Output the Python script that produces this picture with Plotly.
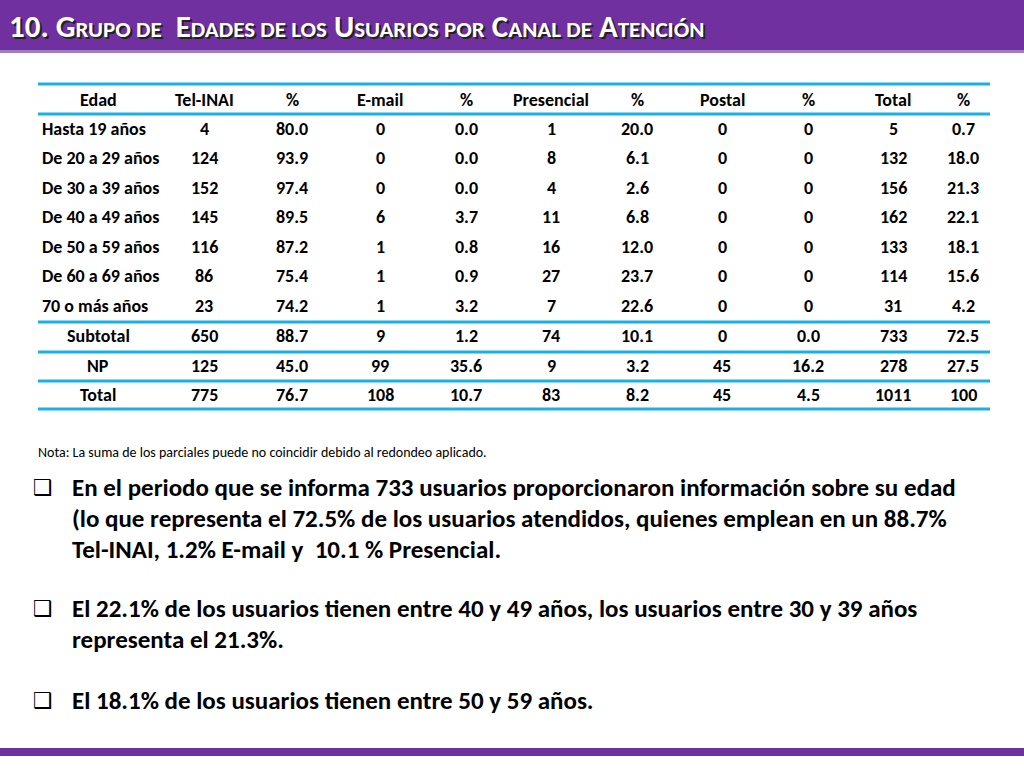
import plotly.graph_objects as go

headers = ["Edad", "Tel-INAI", "%", "E-mail", "%", "Presencial", "%", "Postal", "%", "Total", "%"]
ages = ["Hasta 19 años", "De 20 a 29 años", "De 30 a 39 años", "De 40 a 49 años",
        "De 50 a 59 años", "De 60 a 69 años", "70 o más años", "Subtotal", "NP", "Total"]
tel = ["4", "124", "152", "145", "116", "86", "23", "650", "125", "775"]
tel_pct = ["80.0", "93.9", "97.4", "89.5", "87.2", "75.4", "74.2", "88.7", "45.0", "76.7"]
email = ["0", "0", "0", "6", "1", "1", "1", "9", "99", "108"]
email_pct = ["0.0", "0.0", "0.0", "3.7", "0.8", "0.9", "3.2", "1.2", "35.6", "10.7"]
pres = ["1", "8", "4", "11", "16", "27", "7", "74", "9", "83"]
pres_pct = ["20.0", "6.1", "2.6", "6.8", "12.0", "23.7", "22.6", "10.1", "3.2", "8.2"]
postal = ["0", "0", "0", "0", "0", "0", "0", "0", "45", "45"]
postal_pct = ["0", "0", "0", "0", "0", "0", "0", "0.0", "16.2", "4.5"]
total = ["5", "132", "156", "162", "133", "114", "31", "733", "278", "1011"]
total_pct = ["0.7", "18.0", "21.3", "22.1", "18.1", "15.6", "4.2", "72.5", "27.5", "100"]

title = "10. G<span style='font-size:23px'>RUPO DE</span>  E<span style='font-size:23px'>DADES DE LOS</span> U<span style='font-size:23px'>SUARIOS POR</span> C<span style='font-size:23px'>ANAL DE</span> A<span style='font-size:23px'>TENCIÓN</span>"
nota = "Nota: La suma de los parciales puede no coincidir debido al redondeo aplicado."
bullets = [
    ["En el periodo que se informa 733 usuarios proporcionaron información sobre su edad",
     "(lo que representa el 72.5% de los usuarios atendidos, quienes emplean en un 88.7%",
     "Tel-INAI, 1.2% E-mail y  10.1 % Presencial."],
    ["El 22.1% de los usuarios tienen entre 40 y 49 años, los usuarios entre 30 y 39 años",
     "representa el 21.3%."],
    ["El 18.1% de los usuarios tienen entre 50 y 59 años."],
]

FONT = "Carlito, Calibri, Liberation Sans, sans-serif"
BFONT = "Carlito, Calibri, Liberation Sans, sans-serif"
CYAN = "#1ab0e6"
PURPLE = "#7030a0"

fig = go.Figure()
fig.add_trace(go.Scatter(x=[0, 1024], y=[0, 768], mode="markers", marker=dict(opacity=0), hoverinfo="skip", showlegend=False))

shapes = []
anns = []
shapes.append(dict(type="rect", x0=0, x1=1024, y0=0, y1=50, fillcolor=PURPLE, line_width=0, layer="below"))
shapes.append(dict(type="rect", x0=0, x1=1024, y0=50, y1=53, fillcolor="#a07cc5", line_width=0, layer="below"))
shapes.append(dict(type="rect", x0=0, x1=1024, y0=748, y1=756, fillcolor=PURPLE, line_width=0, layer="below"))
for dx, dy, col in [(1.5, 1.5, "#222222"), (0, 0, "white")]:
    anns.append(dict(x=7 + dx, y=26 + dy, text="<b>" + title + "</b>", showarrow=False, xanchor="left", yanchor="middle",
                     font=dict(family=FONT, size=31, color=col)))

cols_x = [98, 204, 292, 380, 466, 551, 637, 722, 808, 893, 963]
header_y = 100
row_y = [129, 158, 188, 217, 247, 276, 306, 336, 366, 395]
for yl in [84, 114, 322, 352, 381, 409]:
    shapes.append(dict(type="line", x0=38, x1=990, y0=yl, y1=yl, line=dict(color=CYAN, width=3)))
for h, x in zip(headers, cols_x):
    anns.append(dict(x=x, y=header_y, text="<b>" + h + "</b>", showarrow=False, font=dict(family=FONT, size=18, color="black")))
series = [tel, tel_pct, email, email_pct, pres, pres_pct, postal, postal_pct, total, total_pct]
for i, a in enumerate(ages):
    if i < 7:
        anns.append(dict(x=40, y=row_y[i], text="<b>" + a + "</b>", showarrow=False, xanchor="left", font=dict(family=FONT, size=18, color="black")))
    else:
        anns.append(dict(x=cols_x[0], y=row_y[i], text="<b>" + a + "</b>", showarrow=False, font=dict(family=FONT, size=18, color="black")))
    for s, x in zip(series, cols_x[1:]):
        anns.append(dict(x=x, y=row_y[i], text="<b>" + s[i] + "</b>", showarrow=False, font=dict(family=FONT, size=18, color="black")))

anns.append(dict(x=36, y=452, text=nota, showarrow=False, xanchor="left", font=dict(family=BFONT, size=14, color="black")))

by = [[487, 518, 549], [608, 639], [700]]
for lines, ys in zip(bullets, by):
    anns.append(dict(x=31, y=ys[0], text="❑", showarrow=False, xanchor="left", font=dict(family="DejaVu Sans", size=22, color="black")))
    for t, y in zip(lines, ys):
        anns.append(dict(x=70, y=y, text="<b>" + t + "</b>", showarrow=False, xanchor="left", font=dict(family=BFONT, size=25, color="black")))

fig.update_layout(width=1024, height=768, margin=dict(l=0, r=0, t=0, b=0),
                  paper_bgcolor="white", plot_bgcolor="white",
                  xaxis=dict(range=[0, 1024], visible=False, fixedrange=True),
                  yaxis=dict(range=[768, 0], visible=False, fixedrange=True),
                  shapes=shapes, annotations=anns)
fig.write_html("out.html", config={"displayModeBar": False},
               post_script="document.body.style.margin='0';document.body.style.overflow='hidden';")
